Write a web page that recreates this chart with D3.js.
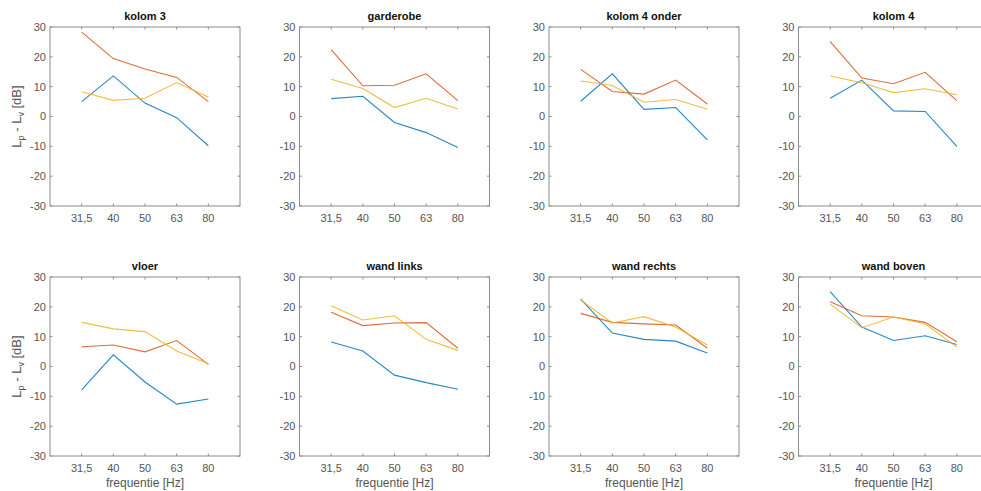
<!DOCTYPE html>
<html>
<head>
<meta charset="utf-8">
<script src="https://cdn.jsdelivr.net/npm/d3@7"></script>
<style>
  body { margin: 0; background: #fff; }
  svg { display: block; font-family: "Liberation Sans", Arial, sans-serif; }
</style>
</head>
<body>
<svg id="chart" width="981" height="491"></svg>
<script>
// frequency bands (x axis)
const freqs = ["31,5", "40", "50", "63", "80"];
const yTicks = [-30, -20, -10, 0, 10, 20, 30];

// panel titles, row by row
const titles = ["kolom 3", "garderobe", "kolom 4 onder", "kolom 4",
  "vloer", "wand links", "wand rechts", "wand boven"];

// three series per panel (blue, red, yellow), values in dB
const blue = [
  [5.0, 13.6, 4.5, -0.4, -9.8],
  [6.0, 6.8, -2.0, -5.4, -10.4],
  [5.1, 14.3, 2.4, 3.0, -7.8],
  [6.1, 12.2, 1.9, 1.7, -10.0],
  [-7.8, 3.9, -5.2, -12.6, -10.9],
  [8.2, 5.2, -2.9, -5.4, -7.6],
  [22.6, 11.2, 9.1, 8.5, 4.5],
  [25.1, 13.2, 8.7, 10.3, 7.4]
];
const red = [
  [28.3, 19.4, 15.9, 13.1, 5.0],
  [22.4, 10.3, 10.5, 14.3, 5.3],
  [15.8, 8.4, 7.5, 12.2, 4.2],
  [25.1, 12.9, 11.0, 14.8, 5.3],
  [6.6, 7.2, 4.9, 8.7, 0.7],
  [18.2, 13.7, 14.6, 14.7, 6.1],
  [17.8, 14.8, 14.3, 13.9, 6.1],
  [21.7, 17.0, 16.6, 14.8, 8.3]
];
const yellow = [
  [8.3, 5.4, 6.1, 11.4, 6.5],
  [12.5, 9.4, 3.0, 6.1, 2.5],
  [11.9, 10.4, 4.8, 5.7, 2.4],
  [13.6, 11.3, 8.0, 9.3, 7.3],
  [14.8, 12.6, 11.7, 5.2, 0.9],
  [20.4, 15.6, 17.0, 9.1, 5.4],
  [22.3, 14.6, 16.7, 13.2, 7.2],
  [20.9, 13.0, 16.6, 14.3, 6.5]
];

const colors = ["#0072BD", "#D95319", "#EDB120"];

const svg = d3.select("#chart");
const pw = 190, ph = 179;
const lefts = [50, 299.5, 549, 798.5];
const tops = [27, 277];

// x: band index, with one empty slot each side (like matlab xlim [0 6])
const x = d3.scaleLinear().domain([-1, 5]).range([0, pw]);
const y = d3.scaleLinear().domain([-30, 30]).range([ph, 0]);

const line = d3.line().x((d, i) => x(i)).y((d) => y(d));

titles.forEach((title, p) => {
  const row = Math.floor(p / 4), col = p % 4;
  const g = svg.append("g")
    .attr("transform", `translate(${lefts[col]},${tops[row]})`);

  // box
  g.append("rect")
    .attr("width", pw).attr("height", ph)
    .attr("fill", "none").attr("stroke", "#8c8c8c").attr("stroke-width", 1);

  // inward ticks on all four sides
  const tk = 2.5;
  freqs.forEach((f, i) => {
    g.append("line").attr("x1", x(i)).attr("x2", x(i)).attr("y1", ph).attr("y2", ph - tk)
      .attr("stroke", "#8c8c8c");
    g.append("line").attr("x1", x(i)).attr("x2", x(i)).attr("y1", 0).attr("y2", tk)
      .attr("stroke", "#8c8c8c");
    g.append("text").attr("x", x(i)).attr("y", ph + 16)
      .attr("text-anchor", "middle").attr("font-size", 11).attr("fill", "#555")
      .text(f);
  });
  yTicks.forEach((t) => {
    g.append("line").attr("x1", 0).attr("x2", tk).attr("y1", y(t)).attr("y2", y(t))
      .attr("stroke", "#8c8c8c");
    g.append("line").attr("x1", pw).attr("x2", pw - tk).attr("y1", y(t)).attr("y2", y(t))
      .attr("stroke", "#8c8c8c");
    g.append("text").attr("x", -4).attr("y", y(t)).attr("dy", "0.35em")
      .attr("text-anchor", "end").attr("font-size", 11).attr("fill", "#555")
      .text(t);
  });

  // the three series
  [blue[p], red[p], yellow[p]].forEach((vals, s) => {
    g.append("path").datum(vals)
      .attr("fill", "none").attr("stroke", colors[s]).attr("stroke-width", 1.1)
      .attr("stroke-opacity", 0.85)
      .attr("d", line);
  });

  // title
  g.append("text").attr("x", pw / 2).attr("y", -7)
    .attr("text-anchor", "middle").attr("font-size", 11).attr("font-weight", "bold")
    .attr("fill", "#111").text(title);

  // x label on bottom row
  if (row === 1) {
    g.append("text").attr("x", x(2)).attr("y", ph + 31)
      .attr("text-anchor", "middle").attr("font-size", 12).attr("fill", "#555")
      .text("frequentie [Hz]");
  }

  // y label on left column
  if (col === 0) {
    const yl = g.append("text")
      .attr("transform", `translate(-29,${ph / 2}) rotate(-90)`)
      .attr("text-anchor", "middle").attr("font-size", 13).attr("fill", "#555");
    yl.append("tspan").text("L");
    yl.append("tspan").attr("font-size", 9).attr("dy", 3).text("p");
    yl.append("tspan").attr("dy", -3).text(" - L");
    yl.append("tspan").attr("font-size", 9).attr("dy", 3).text("v");
    yl.append("tspan").attr("dy", -3).text(" [dB]");
  }
});
</script>
</body>
</html>
